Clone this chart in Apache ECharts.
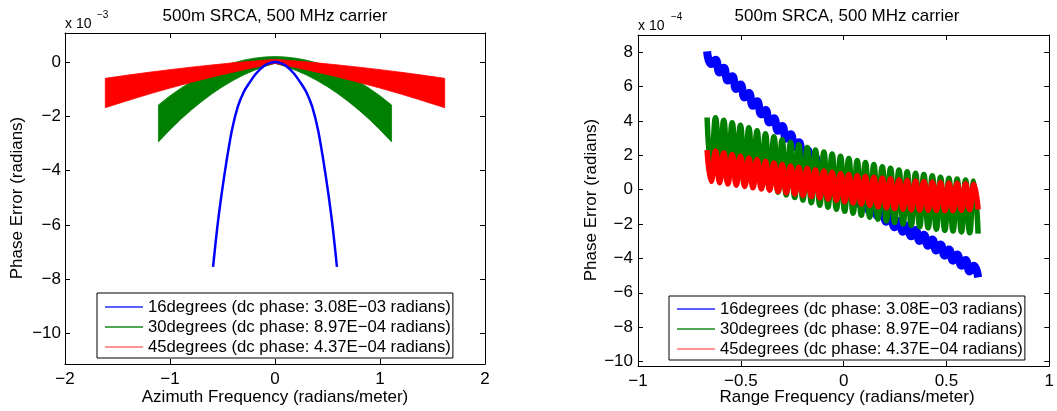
<!DOCTYPE html>
<html>
<head>
<meta charset="utf-8">
<script src="https://cdn.jsdelivr.net/npm/echarts@6/dist/echarts.min.js"></script>
<style>
  html, body { margin: 0; padding: 0; background: #fff; }
  #chart { width: 1057px; height: 411px; }
</style>
</head>
<body>
<div id="chart"></div>
<script>
// ---- Series names -------------------------------------------------------
const NAME_16 = '16degrees (dc phase: 3.08E\u221203 radians)';
const NAME_30 = '30degrees (dc phase: 8.97E\u221204 radians)';
const NAME_45 = '45degrees (dc phase: 4.37E\u221204 radians)';

// ---- Left panel: phase error (x 1e-3 rad) vs azimuth frequency ----------
// 16 deg: single curve
const AZ_BLUE_X = [-0.59, -0.55, -0.51, -0.46, -0.41, -0.355, -0.3, -0.25, -0.18, -0.1, -0.04, 0,
                   0.04, 0.1, 0.18, 0.25, 0.3, 0.355, 0.41, 0.46, 0.51, 0.55, 0.59];
const AZ_BLUE_Y = [-7.54, -6.1, -4.9, -3.61, -2.5, -1.65, -1.12, -0.8, -0.42, -0.13, -0.02, 0,
                   -0.02, -0.13, -0.42, -0.8, -1.12, -1.65, -2.5, -3.61, -4.9, -6.1, -7.54];
// 30 deg: oscillating band, upper / lower envelopes
const AZ_GREEN_X  = [-1.11, -1.0, -0.9, -0.8, -0.7, -0.6, -0.5, -0.4, -0.3, -0.2, -0.1, -0.05, 0,
                     0.05, 0.1, 0.2, 0.3, 0.4, 0.5, 0.6, 0.7, 0.8, 0.9, 1.0, 1.11];
const AZ_GREEN_UP = [-1.58, -1.245, -0.97, -0.725, -0.508, -0.32, -0.161, -0.031, 0.07, 0.142, 0.186, 0.196, 0.2,
                     0.196, 0.186, 0.142, 0.07, -0.031, -0.161, -0.32, -0.508, -0.725, -0.97, -1.245, -1.58];
const AZ_GREEN_LO = [-2.94, -2.495, -2.12, -1.775, -1.458, -1.17, -0.911, -0.681, -0.48, -0.308, -0.164, -0.104, -0.05,
                     -0.104, -0.164, -0.308, -0.48, -0.681, -0.911, -1.17, -1.458, -1.775, -2.12, -2.495, -2.94];
// 45 deg: oscillating band, upper / lower envelopes
const AZ_RED_X  = [-1.616, -1.4, -1.2, -1.0, -0.8, -0.6, -0.4, -0.2, -0.1, 0,
                   0.1, 0.2, 0.4, 0.6, 0.8, 1.0, 1.2, 1.4, 1.616];
const AZ_RED_UP = [-0.6, -0.48, -0.376, -0.279, -0.189, -0.106, -0.03, 0.038, 0.07, 0.1,
                   0.07, 0.038, -0.03, -0.106, -0.189, -0.279, -0.376, -0.48, -0.6];
const AZ_RED_LO = [-1.68, -1.417, -1.181, -0.959, -0.75, -0.555, -0.373, -0.205, -0.126, -0.05,
                   -0.126, -0.205, -0.373, -0.555, -0.75, -0.959, -1.181, -1.417, -1.68];

// ---- Right panel: phase error (x 1e-4 rad) vs range frequency -----------
// sample positions at successive crests / troughs of the ripple
const RANGE_X = [
  -0.664, -0.644, -0.623, -0.603, -0.583, -0.563, -0.542, -0.522, -0.502, -0.481,
  -0.461, -0.441, -0.421, -0.400, -0.380, -0.360, -0.339, -0.319, -0.299, -0.279,
  -0.258, -0.238, -0.218, -0.198, -0.177, -0.157, -0.137, -0.116, -0.096, -0.076,
  -0.056, -0.035, -0.015, 0.005, 0.025, 0.046, 0.066, 0.086, 0.106, 0.127,
  0.147, 0.167, 0.188, 0.208, 0.228, 0.248, 0.269, 0.289, 0.309, 0.329,
  0.350, 0.370, 0.390, 0.411, 0.431, 0.451, 0.471, 0.492, 0.512, 0.532,
  0.552, 0.573, 0.593, 0.613, 0.633, 0.654
];
const RANGE_BLUE = [
  8.05, 7.31, 7.56, 6.82, 7.09, 6.35, 6.60, 5.86, 6.12, 5.37,
  5.63, 4.88, 5.14, 4.38, 4.64, 3.91, 4.16, 3.43, 3.70, 2.97,
  3.22, 2.49, 2.76, 2.04, 2.31, 1.58, 1.86, 1.13, 1.41, 0.69,
  0.97, 0.24, 0.52, -0.19, 0.12, -0.56, -0.24, -0.92, -0.60, -1.26,
  -0.91, -1.56, -1.22, -1.87, -1.52, -2.18, -1.82, -2.45, -2.08, -2.71,
  -2.35, -2.99, -2.62, -3.26, -2.90, -3.54, -3.19, -3.84, -3.48, -4.13,
  -3.77, -4.42, -4.09, -4.76, -4.43, -5.10
];
const RANGE_GREEN = [
  4.20, 1.04, 4.19, 0.97, 4.04, 0.82, 3.89, 0.67, 3.75, 0.53,
  3.60, 0.37, 3.43, 0.19, 3.25, 0.02, 3.08, -0.15, 2.91, -0.31,
  2.76, -0.46, 2.61, -0.61, 2.46, -0.76, 2.31, -0.90, 2.19, -1.02,
  2.07, -1.14, 1.95, -1.26, 1.82, -1.37, 1.70, -1.49, 1.58, -1.60,
  1.46, -1.72, 1.34, -1.82, 1.24, -1.91, 1.14, -2.00, 1.04, -2.08,
  0.96, -2.16, 0.88, -2.23, 0.81, -2.30, 0.73, -2.37, 0.67, -2.41,
  0.62, -2.46, 0.56, -2.51, 0.51, -2.56
];
const RANGE_RED = [
  2.30, 0.48, 2.25, 0.41, 2.15, 0.33, 2.05, 0.26, 1.95, 0.19,
  1.85, 0.11, 1.75, 0.04, 1.65, -0.03, 1.55, -0.11, 1.46, -0.18,
  1.38, -0.25, 1.31, -0.33, 1.24, -0.40, 1.16, -0.48, 1.09, -0.55,
  1.02, -0.62, 0.94, -0.70, 0.88, -0.77, 0.83, -0.85, 0.78, -0.92,
  0.73, -1.00, 0.68, -1.06, 0.63, -1.10, 0.58, -1.14, 0.54, -1.17,
  0.50, -1.19, 0.47, -1.20, 0.45, -1.21, 0.42, -1.22, 0.39, -1.22,
  0.37, -1.20, 0.34, -1.17, 0.31, -1.15
];

// ---- Axis ticks -----------------------------------------------------------
const LEFT_Y_TICKS  = [-10, -8, -6, -4, -2, 0];
const RIGHT_Y_TICKS = [-10, -8, -6, -4, -2, 0, 2, 4, 6, 8];

const FONT = 'Liberation Sans';
const BLUE = '#0000ff', GREEN = '#008000', RED = '#ff0000';

function zip(xs, ys) { return xs.map((x, i) => [x, ys[i]]); }
function minusSign(v) { return String(v).replace('-', '\u2212'); }

// filled band between two envelopes, placed through the axis scales
function bandRenderer(xs, up, lo, color) {
  return function (params, api) {
    const pts = [];
    for (let i = 0; i < xs.length; i++) pts.push(api.coord([xs[i], up[i]]));
    for (let i = xs.length - 1; i >= 0; i--) pts.push(api.coord([xs[i], lo[i]]));
    return { type: 'polygon', shape: { points: pts }, style: { fill: color, stroke: color, lineWidth: 0.8 } };
  };
}

const labelStyle = { fontSize: 17, fontFamily: FONT, color: '#000' };
const lineStyle = { color: '#000', width: 1 };

function xAxisPair(grid, min, max, interval) {
  return [
    { type: 'value', gridIndex: grid, min, max, interval, position: 'bottom',
      axisLine: { show: true, onZero: false, lineStyle },
      axisTick: { show: true, inside: true, length: 5, lineStyle },
      axisLabel: Object.assign({ margin: 7, formatter: minusSign }, labelStyle),
      splitLine: { show: false } },
    { type: 'value', gridIndex: grid, min, max, interval, position: 'top',
      axisLine: { show: true, onZero: false, lineStyle },
      axisTick: { show: true, inside: true, length: 5, lineStyle },
      axisLabel: { show: false }, splitLine: { show: false } }
  ];
}
function yAxisPair(grid, min, max, ticks, margin) {
  return [
    { type: 'value', gridIndex: grid, min, max, position: 'left',
      axisLine: { show: true, onZero: false, lineStyle },
      axisTick: { show: true, inside: true, length: 5, lineStyle, customValues: ticks },
      axisLabel: Object.assign({ margin, formatter: minusSign, customValues: ticks }, labelStyle),
      splitLine: { show: false } },
    { type: 'value', gridIndex: grid, min, max, position: 'right',
      axisLine: { show: true, onZero: false, lineStyle },
      axisTick: { show: true, inside: true, length: 5, lineStyle, customValues: ticks },
      axisLabel: { show: false }, splitLine: { show: false } }
  ];
}

function legendAt(left, top, pad) {
  return {
    left, top, orient: 'vertical', icon: 'rect',
    itemWidth: 38, itemHeight: 1.5, itemGap: 0, padding: pad,
    backgroundColor: '#fff', borderColor: '#000', borderWidth: 1, borderRadius: 0,
    selectedMode: false,
    textStyle: { fontSize: 16.7, fontFamily: FONT, color: '#000', lineHeight: 20 },
    data: [
      { name: NAME_16, itemStyle: { color: '#2a2aff' } },
      { name: NAME_30, itemStyle: { color: '#1a8a1a' } },
      { name: NAME_45, itemStyle: { color: '#ff7070' } }
    ]
  };
}

function text(x, y, str, size, extra) {
  return Object.assign({
    type: 'text', x, y, silent: true,
    style: { text: str, font: size + 'px "' + FONT + '"', fill: '#000', align: 'center', verticalAlign: 'middle' }
  }, extra || {});
}
function leftText(x, y, str, size) {
  return { type: 'text', x, y, silent: true,
    style: { text: str, font: size + 'px "' + FONT + '"', fill: '#000', align: 'left', verticalAlign: 'middle' } };
}

const chart = echarts.init(document.getElementById('chart'), null, { renderer: 'canvas' });
chart.setOption({
  animation: false,
  backgroundColor: '#fff',
  grid: [
    { left: 65, top: 33, width: 420, height: 331 },
    { left: 638, top: 35, width: 418, height: 331 }
  ],
  xAxis: [].concat(xAxisPair(0, -2, 2, 1), xAxisPair(1, -1, 1, 0.5)),
  yAxis: [].concat(yAxisPair(0, -11.12, 1.07, LEFT_Y_TICKS, 4), yAxisPair(1, -10.26, 9, RIGHT_Y_TICKS, 5)),
  legend: [legendAt(97, 293, [4, 2, 1, 8]), legendAt(669, 296, [3, 2, 1, 8])],
  series: [
    { name: NAME_16, type: 'line', xAxisIndex: 0, yAxisIndex: 0, data: zip(AZ_BLUE_X, AZ_BLUE_Y),
      symbol: 'none', smooth: 0.3, lineStyle: { color: BLUE, width: 2.5 }, itemStyle: { color: BLUE } },
    { name: NAME_30, type: 'custom', xAxisIndex: 0, yAxisIndex: 0, data: [[0, 0]], silent: true,
      itemStyle: { color: GREEN }, renderItem: bandRenderer(AZ_GREEN_X, AZ_GREEN_UP, AZ_GREEN_LO, GREEN) },
    { name: NAME_45, type: 'custom', xAxisIndex: 0, yAxisIndex: 0, data: [[0, 0]], silent: true,
      itemStyle: { color: RED }, renderItem: bandRenderer(AZ_RED_X, AZ_RED_UP, AZ_RED_LO, RED) },

    { name: NAME_16, type: 'line', xAxisIndex: 2, yAxisIndex: 2, data: zip(RANGE_X, RANGE_BLUE),
      symbol: 'none', smooth: 0.5, lineStyle: { color: BLUE, width: 8 }, itemStyle: { color: BLUE } },
    { name: NAME_30, type: 'line', xAxisIndex: 2, yAxisIndex: 2, data: zip(RANGE_X, RANGE_GREEN),
      symbol: 'none', smooth: 0.5, lineStyle: { color: GREEN, width: 5.5 }, itemStyle: { color: GREEN } },
    { name: NAME_45, type: 'line', xAxisIndex: 2, yAxisIndex: 2, data: zip(RANGE_X, RANGE_RED),
      symbol: 'none', smooth: 0.5, lineStyle: { color: RED, width: 5.5 }, itemStyle: { color: RED } }
  ],
  graphic: [
    text(275, 16, '500m SRCA, 500 MHz carrier', 17),
    text(847, 16, '500m SRCA, 500 MHz carrier', 17),
    text(275, 397, 'Azimuth Frequency (radians/meter)', 17),
    text(847, 397, 'Range Frequency (radians/meter)', 17),
    text(17, 198, 'Phase Error (radians)', 17, { rotation: Math.PI / 2 }),
    text(591, 200, 'Phase Error (radians)', 17, { rotation: Math.PI / 2 }),
    leftText(65, 24, 'x 10', 14),
    leftText(97, 15, '\u22123', 10),
    leftText(638, 26, 'x 10', 14),
    leftText(671, 17, '\u22124', 10)
  ]
});
</script>
</body>
</html>
